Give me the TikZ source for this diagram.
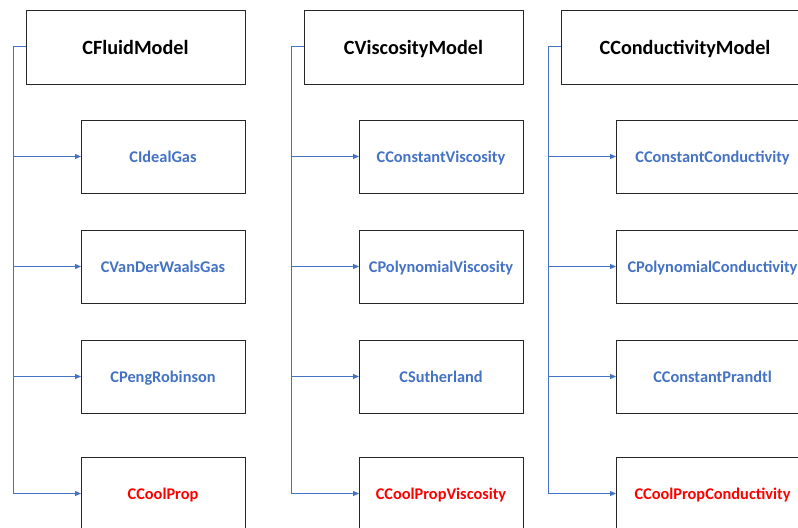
\documentclass[tikz,border=0pt]{standalone}
\usepackage{fontspec}
\setmainfont{Carlito}
\usetikzlibrary{positioning, arrows.meta}
\definecolor{linkblue}{HTML}{4472C4}

\begin{document}
\begin{tikzpicture}[
    x=1bp, y=-1bp,
    node distance=37bp,
    every node/.style={draw=black!85, line width=0.8bp, rectangle, outer sep=0pt, align=center, text depth=0pt},
    base/.style={minimum width=219bp, minimum height=74bp, text height=15.6bp, font=\bfseries\fontsize{20.3}{24}\selectfont},
    derived/.style={minimum width=164bp, minimum height=73bp, text height=12.8bp, text=linkblue, font=\bfseries\fontsize{16.4}{19}\selectfont},
    coolprop/.style={derived, text=red},
    link/.style={draw=linkblue, line width=1bp},
    arrow/.style={link, -{Triangle[length=6bp, width=5bp]}}
]
\fill[white] (0,0) rectangle (798,528);
\clip[use as bounding box] (0,0) rectangle (798,528);

% fluid models
\node[base, anchor=north west] (fluid) at (26,10) {CFluidModel};
\node[derived, below left=36bp and 0bp of fluid.south east] (idealgas) {CIdealGas};
\node[derived, below=of idealgas] (vdwgas) {CVanDerWaalsGas};
\node[derived, below=of vdwgas] (pengrob) {CPengRobinson};
\node[coolprop, below=44bp of pengrob] (coolprop) {CCoolProp};

% viscosity models
\node[base, right=59bp of fluid] (viscosity) {CViscosityModel};
\node[derived, below left=36bp and 0bp of viscosity.south east] (constvisc) {CConstantViscosity};
\node[derived, below=of constvisc] (polyvisc) {CPolynomialViscosity};
\node[derived, below=of polyvisc] (sutherland) {CSutherland};
\node[coolprop, below=44bp of sutherland] (coolvisc) {CCoolPropViscosity};

% conductivity models
\node[base, minimum width=248bp, right=38bp of viscosity] (conductivity) {CConductivityModel};
\node[derived, minimum width=193bp, below left=36bp and 0bp of conductivity.south east] (constcond) {CConstantConductivity};
\node[derived, minimum width=193bp, below=of constcond] (polycond) {CPolynomialConductivity};
\node[derived, minimum width=193bp, below=of polycond] (prandtl) {CConstantPrandtl};
\node[coolprop, minimum width=193bp, below=44bp of prandtl] (coolcond) {CCoolPropConductivity};

\coordinate[left=13bp of fluid.west] (fluidtrunk);
\coordinate[left=13bp of viscosity.west] (visctrunk);
\coordinate[left=13bp of conductivity.west] (condtrunk);

\draw[arrow] (fluid.west) -- (fluidtrunk) |- (idealgas.west);
\draw[arrow] (fluid.west) -- (fluidtrunk) |- (vdwgas.west);
\draw[arrow] (fluid.west) -- (fluidtrunk) |- (pengrob.west);
\draw[arrow] (fluid.west) -- (fluidtrunk) |- (coolprop.west);

\draw[arrow] (viscosity.west) -- (visctrunk) |- (constvisc.west);
\draw[arrow] (viscosity.west) -- (visctrunk) |- (polyvisc.west);
\draw[arrow] (viscosity.west) -- (visctrunk) |- (sutherland.west);
\draw[arrow] (viscosity.west) -- (visctrunk) |- (coolvisc.west);

\draw[arrow] (conductivity.west) -- (condtrunk) |- (constcond.west);
\draw[arrow] (conductivity.west) -- (condtrunk) |- (polycond.west);
\draw[arrow] (conductivity.west) -- (condtrunk) |- (prandtl.west);
\draw[arrow] (conductivity.west) -- (condtrunk) |- (coolcond.west);
\end{tikzpicture}
\end{document}
